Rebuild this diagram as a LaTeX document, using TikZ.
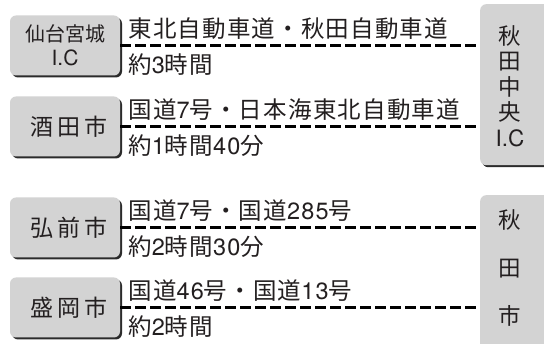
\documentclass[tikz,border=0pt]{standalone}
\usepackage{fontspec}
\usetikzlibrary{shadows}
\newfontfamily\jp[LetterSpace=5]{Noto Sans CJK JP}
\newfontfamily\latr[LetterSpace=5]{TeX Gyre Heros}
\newfontfamily\jpbox[LetterSpace=16]{Noto Sans CJK JP}
\newfontfamily\jpn{Noto Sans CJK JP}
\newfontfamily\latn{TeX Gyre Heros}
\newcommand\latd[1]{{\latr #1}}
\definecolor{boxgray}{HTML}{D3D3D3}
\definecolor{shadowc}{HTML}{2B2B2B}
\definecolor{ink}{HTML}{231F20}
\tikzset{
  lbox/.style={fill=boxgray, rounded corners=6pt, minimum width=110pt, minimum height=60pt,
    inner sep=0pt, text=ink, align=center,
    drop shadow={shadow xshift=2pt, shadow yshift=-2pt, fill=shadowc, opacity=1}},
  rbox/.style={fill=boxgray, rounded corners=6pt, minimum width=80pt, inner sep=0pt,
    anchor=north west,
    drop shadow={shadow xshift=2pt, shadow yshift=-2pt, fill=shadowc, opacity=1}},
  route/.style={anchor=base west, inner sep=0pt, text=ink, font=\jp\fontsize{23.5}{26}\selectfont},
  dashline/.style={line width=2.5pt, dash pattern=on 11pt off 4pt, draw=black},
  vtext/.style={inner sep=0pt, text=ink, align=center}
}
\begin{document}
\begin{tikzpicture}[x=1pt,y=-1pt]
\useasboundingbox (0,0) rectangle (544,344);
\clip (0,0) rectangle (544,344);
\fill[white] (0,0) rectangle (544,344);
% right boxes
\node[rbox, minimum height=161pt] (r1) at (480,4) {};
\node[rbox, minimum height=170pt] (r2) at (480,195) {};
\node[vtext, font=\jpn\fontsize{22.5}{25.5}\selectfont] (r1t) at (510,86) {秋\\田\\中\\央\\{\latn I.C}};
\node[vtext, font=\jpn\fontsize{22.5}{48}\selectfont] (r2t) at (510,268) {秋\\田\\市};
% left boxes
\node[lbox, font=\jpn\fontsize{20}{24}\selectfont] (b1) at (65,45.5) {仙台宮城\\{\latn\fontsize{21}{24}\selectfont I.C}};
\node[lbox, font=\jpbox\fontsize{23}{24}\selectfont] (b2) at (65,126.5) {\hspace*{8pt}酒田市};
\node[lbox, font=\jpbox\fontsize{23}{24}\selectfont] (b3) at (65,227.5) {\hspace*{8pt}弘前市};
\node[lbox, font=\jpbox\fontsize{23}{24}\selectfont] (b4) at (65,307.5) {\hspace*{8pt}盛岡市};
% connectors
\draw[dashline] (b1.east) -- (b1.east -| r1.west);
\draw[dashline] (b2.east) -- (b2.east -| r1.west);
\draw[dashline] (b3.east) -- (b3.east -| r2.west);
\draw[dashline] (b4.east) -- (b4.east -| r2.west);
% route labels
\node[route] (t1a) at ([xshift=8pt,yshift=8pt]b1.east) {東北自動車道・秋田自動車道};
\node[route] (t1b) at ([xshift=8pt,yshift=-28pt]b1.east) {約\latd{3}時間};
\node[route] (t2a) at ([xshift=8pt,yshift=8pt]b2.east) {国道\latd{7}号・日本海東北自動車道};
\node[route] (t2b) at ([xshift=8pt,yshift=-28pt]b2.east) {約\latd{1}時間\latd{40}分};
\node[route] (t3a) at ([xshift=8pt,yshift=8pt]b3.east) {国道\latd{7}号・国道\latd{285}号};
\node[route] (t3b) at ([xshift=8pt,yshift=-28pt]b3.east) {約\latd{2}時間\latd{30}分};
\node[route] (t4a) at ([xshift=8pt,yshift=8pt]b4.east) {国道\latd{46}号・国道\latd{13}号};
\node[route] (t4b) at ([xshift=8pt,yshift=-28pt]b4.east) {約\latd{2}時間};
\end{tikzpicture}
\end{document}
